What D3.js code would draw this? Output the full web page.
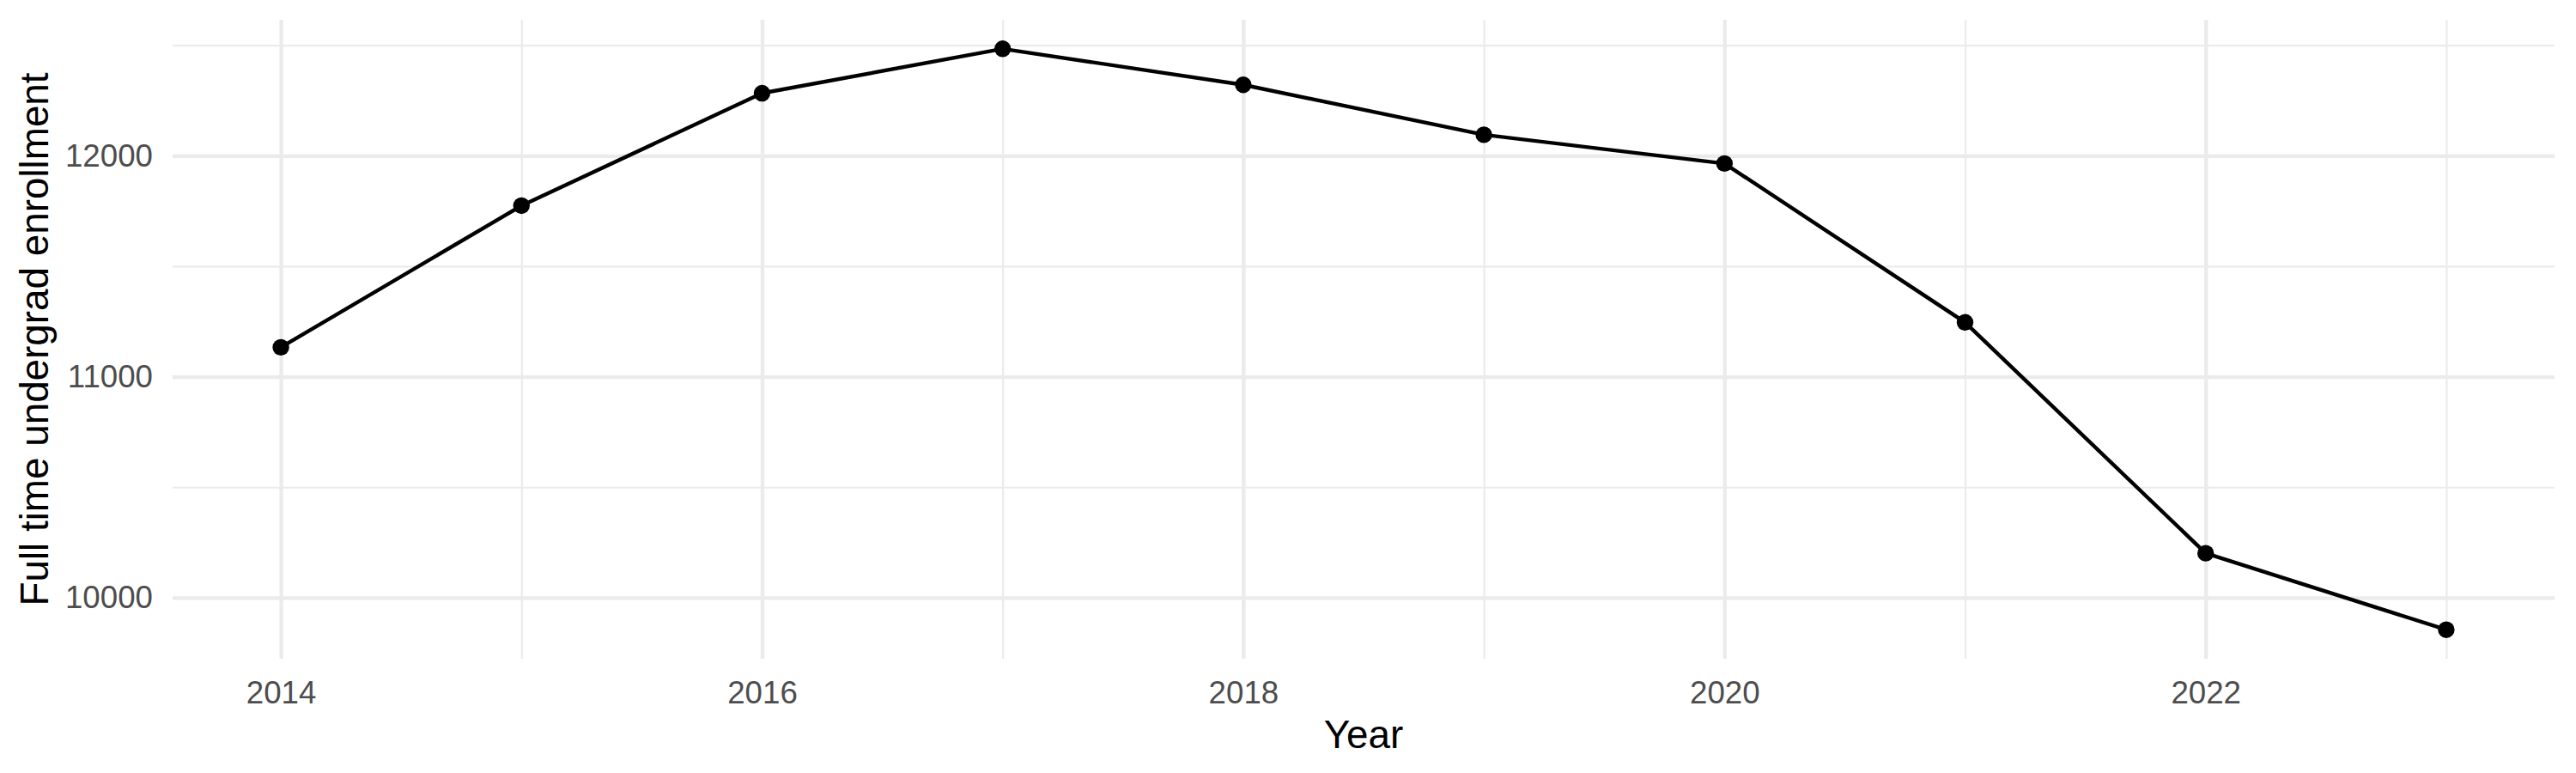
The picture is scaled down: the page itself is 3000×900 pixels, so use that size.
<!DOCTYPE html>
<html>
<head>
<meta charset="utf-8">
<script src="https://cdn.jsdelivr.net/npm/d3@7"></script>
<style>
  body { margin: 0; background: #ffffff; }
  #wrapper text { font-family: "Liberation Sans", Arial, sans-serif; }
</style>
</head>
<body>
<div id="wrapper"></div>
<script>
// data
const years = [2014, 2015, 2016, 2017, 2018, 2019, 2020, 2021, 2022, 2023]
const enrollment = [11133, 11774, 12283, 12484, 12321, 12095, 11965, 11246, 10201, 9855]

const xMajorTicks = [2014, 2016, 2018, 2020, 2022]
const xMinorTicks = [2015, 2017, 2019, 2021, 2023]
const yMajorTicks = [10000, 11000, 12000]
const yMinorTicks = [10500, 11500, 12500]

const xLabel = "Year"
const yLabel = "Full time undergrad enrollment"

function drawChart() {
  const dataset = years.map((y, i) => ({ year: y, value: enrollment[i] }))

  const xAccessor = d => d.year
  const yAccessor = d => d.value

  // chart dimensions
  let dimensions = {
    width: 3000,
    height: 900,
    margin: {
      top: 23,
      right: 25,
      bottom: 133,
      left: 201
    }
  }
  dimensions.boundedWidth = dimensions.width
    - dimensions.margin.left
    - dimensions.margin.right
  dimensions.boundedHeight = dimensions.height
    - dimensions.margin.top
    - dimensions.margin.bottom

  const wrapper = d3.select("#wrapper")
    .append("svg")
      .attr("width", dimensions.width)
      .attr("height", dimensions.height)

  const bounds = wrapper.append("g")
    .attr("transform", `translate(${dimensions.margin.left},${dimensions.margin.top})`)

  // scales, with ggplot-style 5% padding
  const xExtent = d3.extent(dataset, xAccessor)
  const xPad = (xExtent[1] - xExtent[0]) * 0.05
  const xScale = d3.scaleLinear()
    .domain([xExtent[0] - xPad, xExtent[1] + xPad])
    .range([0, dimensions.boundedWidth])

  const yExtent = d3.extent(dataset, yAccessor)
  const yPad = (yExtent[1] - yExtent[0]) * 0.05
  const yScale = d3.scaleLinear()
    .domain([yExtent[0] - yPad, yExtent[1] + yPad])
    .range([dimensions.boundedHeight, 0])

  // grid lines
  const gridColor = "#ebebeb"
  const grid = bounds.append("g").attr("class", "grid")

  grid.append("g")
    .call(d3.axisBottom(xScale).tickValues(xMinorTicks)
      .tickSize(dimensions.boundedHeight).tickFormat(""))
    .call(g => g.select(".domain").remove())
    .call(g => g.selectAll("line").attr("stroke", gridColor).attr("stroke-width", 2.2))

  grid.append("g")
    .call(d3.axisLeft(yScale).tickValues(yMinorTicks)
      .tickSize(-dimensions.boundedWidth).tickFormat(""))
    .call(g => g.select(".domain").remove())
    .call(g => g.selectAll("line").attr("stroke", gridColor).attr("stroke-width", 2.2))

  grid.append("g")
    .call(d3.axisBottom(xScale).tickValues(xMajorTicks)
      .tickSize(dimensions.boundedHeight).tickFormat(""))
    .call(g => g.select(".domain").remove())
    .call(g => g.selectAll("line").attr("stroke", gridColor).attr("stroke-width", 4.4))

  grid.append("g")
    .call(d3.axisLeft(yScale).tickValues(yMajorTicks)
      .tickSize(-dimensions.boundedWidth).tickFormat(""))
    .call(g => g.select(".domain").remove())
    .call(g => g.selectAll("line").attr("stroke", gridColor).attr("stroke-width", 4.4))

  // line + points
  const lineGenerator = d3.line()
    .x(d => xScale(xAccessor(d)))
    .y(d => yScale(yAccessor(d)))

  bounds.append("path")
    .attr("d", lineGenerator(dataset))
    .attr("fill", "none")
    .attr("stroke", "#000000")
    .attr("stroke-width", 4.4)
    .attr("stroke-linejoin", "round")

  bounds.selectAll("circle")
    .data(dataset)
    .enter().append("circle")
      .attr("cx", d => xScale(xAccessor(d)))
      .attr("cy", d => yScale(yAccessor(d)))
      .attr("r", 9.7)
      .attr("fill", "#000000")

  // axes (labels only)
  const xAxis = bounds.append("g")
    .attr("transform", `translate(0,${dimensions.boundedHeight})`)
    .call(d3.axisBottom(xScale).tickValues(xMajorTicks)
      .tickSize(0).tickPadding(26).tickFormat(d3.format("d")))
  xAxis.select(".domain").remove()
  xAxis.selectAll("text")
    .attr("font-size", 36.7)
    .attr("fill", "#4d4d4d")

  const yAxis = bounds.append("g")
    .call(d3.axisLeft(yScale).tickValues(yMajorTicks)
      .tickSize(0).tickPadding(23).tickFormat(d3.format("d")))
  yAxis.select(".domain").remove()
  yAxis.selectAll("text")
    .attr("font-size", 36.7)
    .attr("fill", "#4d4d4d")

  // axis titles
  wrapper.append("text")
    .attr("x", dimensions.margin.left + dimensions.boundedWidth / 2)
    .attr("y", 871)
    .attr("text-anchor", "middle")
    .attr("font-size", 45.8)
    .attr("fill", "#000000")
    .text(xLabel)

  wrapper.append("text")
    .attr("transform", `translate(56,${dimensions.margin.top + dimensions.boundedHeight / 2}) rotate(-90)`)
    .attr("text-anchor", "middle")
    .attr("font-size", 45.8)
    .attr("fill", "#000000")
    .text(yLabel)
}

drawChart()
</script>
</body>
</html>
